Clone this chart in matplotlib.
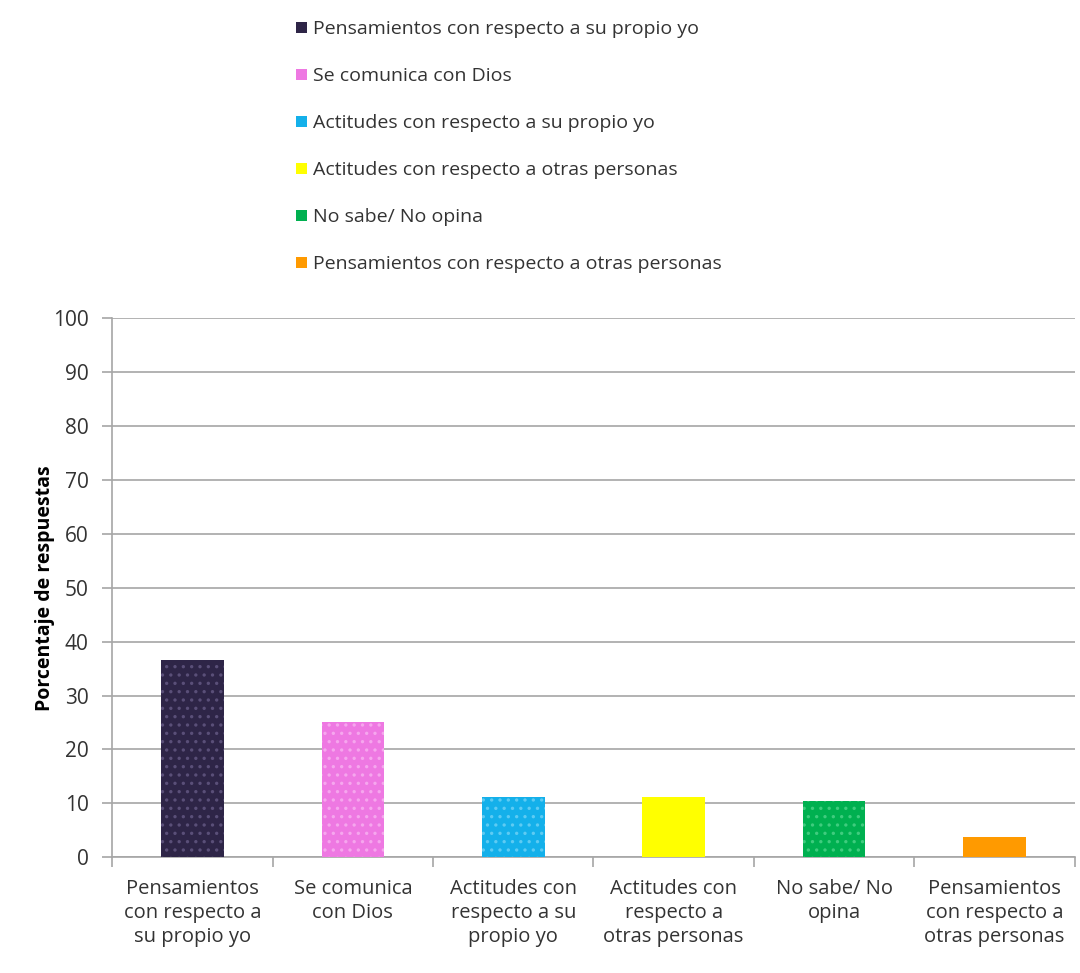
import numpy as np
import matplotlib.pyplot as plt
from matplotlib.patches import Patch

plt.rcParams['font.family'] = ['Open Sans', 'DejaVu Sans']
plt.rcParams['hatch.linewidth'] = 1.2

# data
categorias = ['Pensamientos con respecto a su propio yo',
              'Se comunica con Dios',
              'Actitudes con respecto a su propio yo',
              'Actitudes con respecto a otras personas',
              'No sabe/ No opina',
              'Pensamientos con respecto a otras personas']
etiquetas_x = ['Pensamientos\ncon respecto a\nsu propio yo',
               'Se comunica\ncon Dios',
               'Actitudes con\nrespecto a su\npropio yo',
               'Actitudes con\nrespecto a\notras personas',
               'No sabe/ No\nopina',
               'Pensamientos\ncon respecto a\notras personas']
porcentajes = [36.5, 25.0, 11.2, 11.2, 10.5, 3.8]
colores = ['#2e2547', '#ee78e2', '#14b0ea', '#ffff00', '#00b050', '#ff9a00']
puntos = ['#5a4f78', '#f6a6ee', '#5ecbf3', '#ffff00', '#3fcc7e', '#ff9a00']

fig = plt.figure(figsize=(10.8, 9.73), dpi=100)
ax = fig.add_axes([0.104, 0.119, 0.891, 0.554])

x = np.arange(len(categorias))
for i in range(len(categorias)):
    ax.bar(x[i], porcentajes[i], width=0.39, color=colores[i],
           edgecolor=puntos[i], linewidth=0, hatch='..', zorder=3)

ax.set_xlim(-0.5, len(categorias) - 0.5)
ax.set_ylim(0, 100)
ax.set_yticks(np.arange(0, 101, 10))
ax.yaxis.grid(True, color='#a6a6a6', linewidth=1.2, zorder=0)
ax.tick_params(axis='y', labelsize=15, colors='#a6a6a6', labelcolor='#333333',
               length=7, width=1.2, pad=10)

# tick marks between categories, labels at centres
ax.set_xticks(np.arange(-0.5, len(categorias), 1))
ax.set_xticklabels([])
ax.set_xticks(x, minor=True)
ax.set_xticklabels(etiquetas_x, minor=True, fontsize=14.5, color='#333333',
                   linespacing=1.25)
ax.tick_params(axis='x', which='major', length=7, width=1.2, colors='#a6a6a6')
ax.tick_params(axis='x', which='minor', length=0, pad=16)

for s in ['top', 'right']:
    ax.spines[s].set_visible(False)
for s in ['left', 'bottom']:
    ax.spines[s].set_color('#a6a6a6')
    ax.spines[s].set_linewidth(1.2)

ax.set_ylabel('Porcentaje de respuestas', fontsize=14, fontweight='bold')
ax.yaxis.set_label_coords(-0.06, 0.5)

handles = [Patch(facecolor=colores[i], edgecolor='none') for i in range(len(categorias))]
fig.legend(handles, categorias, loc='upper left', bbox_to_anchor=(0.258, 0.997),
           frameon=False, fontsize=14, labelspacing=1.49, handlelength=0.55,
           handleheight=0.55, handletextpad=0.3, labelcolor='#333333')

plt.savefig('out.png', dpi=100)
